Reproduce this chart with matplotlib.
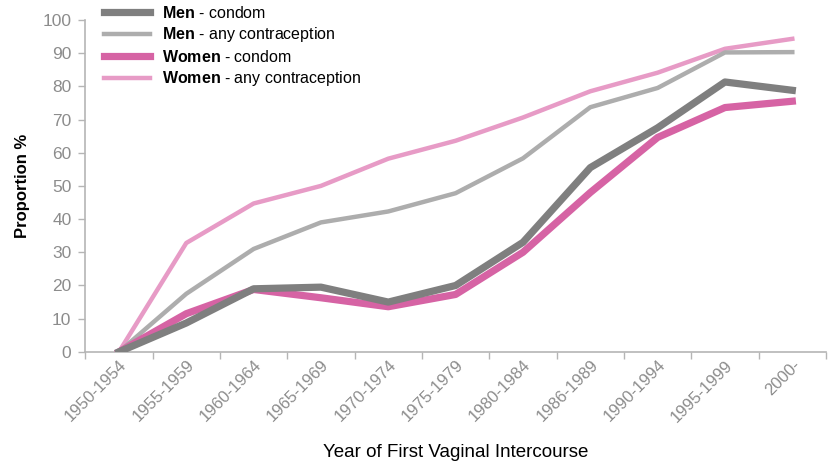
import numpy as np
import matplotlib
matplotlib.use("Agg")
import matplotlib.pyplot as plt

plt.rcParams["font.family"] = ["Liberation Sans", "DejaVu Sans"]
plt.rcParams["mathtext.fontset"] = "custom"
plt.rcParams["mathtext.bf"] = "Liberation Sans:bold"
plt.rcParams["mathtext.rm"] = "Liberation Sans"

periods = ["1950-1954", "1955-1959", "1960-1964", "1965-1969", "1970-1974",
           "1975-1979", "1980-1984", "1986-1989", "1990-1994", "1995-1999", "2000-"]
men_condom = [0, 8.7, 19.0, 19.5, 15.0, 20.0, 33.0, 55.5, 67.5, 81.3, 78.8]
men_any = [0, 17.5, 31.0, 39.0, 42.3, 47.8, 58.3, 73.7, 79.5, 90.2, 90.3]
women_condom = [0, 11.5, 18.8, 16.3, 13.6, 17.3, 30.0, 48.0, 64.6, 73.6, 75.5]
women_any = [0, 32.8, 44.7, 50.0, 58.2, 63.6, 70.6, 78.5, 84.1, 91.3, 94.3]

GREY_TXT = "#8c8c8c"
SPINE = "#b5b5b5"

fig = plt.figure(figsize=(8.36, 4.63), dpi=100)
ax = fig.add_axes([0.102, 0.240, 0.886, 0.717])

x = np.arange(len(periods))
ax.plot(x, men_condom, color="#7f7f7f", lw=5.2,
        label=r"$\mathbf{Men}$ - condom", zorder=4)
ax.plot(x, men_any, color="#adadad", lw=3.2,
        label=r"$\mathbf{Men}$ - any contraception", zorder=3)
ax.plot(x, women_condom, color="#d663a4", lw=5.2,
        label=r"$\mathbf{Women}$ - condom", zorder=3.5)
ax.plot(x, women_any, color="#e79bc6", lw=3.2,
        label=r"$\mathbf{Women}$ - any contraception", zorder=2)

ax.set_xlim(-0.5, len(periods) - 0.5)
ax.set_ylim(0, 100)
ax.set_yticks(np.arange(0, 101, 10))

# ticks between categories, labels centred under each category
ax.set_xticks(np.arange(-0.5, len(periods), 1.0))
ax.set_xticklabels([])
ax.set_xticks(x, minor=True)
ax.set_xticklabels(periods, minor=True, rotation=45, ha="right",
                   rotation_mode="anchor", fontsize=12, color=GREY_TXT)
ax.tick_params(axis="x", which="minor", length=0, pad=4)
ax.tick_params(axis="x", which="major", length=5, color=SPINE, width=1)
ax.tick_params(axis="y", length=5, color=SPINE, width=1, labelsize=12.5,
               labelcolor=GREY_TXT, pad=5)

for s in ["top", "right"]:
    ax.spines[s].set_visible(False)
for s in ["left", "bottom"]:
    ax.spines[s].set_color(SPINE)
    ax.spines[s].set_linewidth(1.2)

ax.set_ylabel("Proportion %", fontsize=12, fontweight="bold", labelpad=9)
ax.set_xlabel("Year of First Vaginal Intercourse", fontsize=13.5, labelpad=14)

ax.legend(loc="upper left", bbox_to_anchor=(104 / 836, 1 - 5 / 463),
          bbox_transform=fig.transFigure, frameon=False, fontsize=11.5,
          handlelength=2.9, handletextpad=0.7, labelspacing=0.28,
          borderaxespad=0, borderpad=0)

fig.savefig("out.png", dpi=100)
